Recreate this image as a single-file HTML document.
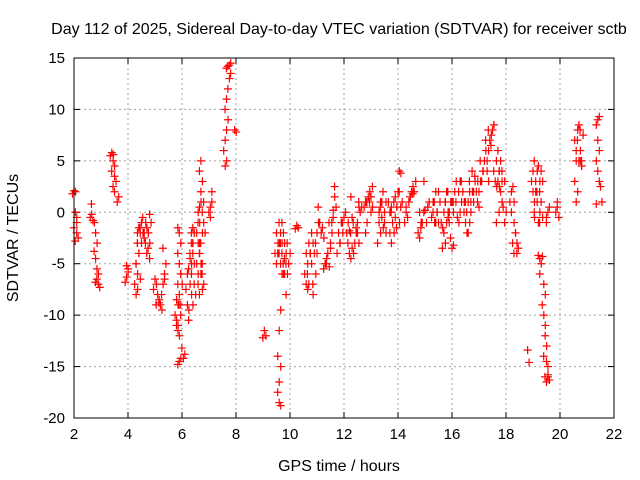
<!DOCTYPE html>
<html><head><meta charset="utf-8"><style>
body{margin:0;background:#fff}
svg{display:block;font-family:"Liberation Sans",sans-serif}
</style></head><body>
<svg id="chart" width="640" height="480">
<text x="339" y="34" font-size="16" text-anchor="middle">Day 112 of 2025, Sidereal Day-to-day VTEC variation (SDTVAR) for receiver sctb</text>
<text x="339" y="471" font-size="16" text-anchor="middle">GPS time / hours</text>
<text transform="translate(18,238) rotate(-90)" font-size="16" text-anchor="middle">SDTVAR / TECUs</text>
<g id="grid"></g><g id="ticks"></g><g id="marks"></g>
<rect x="74" y="58" width="540" height="360" fill="none" stroke="#000"/>
</svg>
<script>
const xTicks=[2,4,6,8,10,12,14,16,18,20,22];
const yTicks=[15,10,5,0,-5,-10,-15,-20];
// each group: [time, value, value, ...]
const groups=[
[2.0,2.1,2.0,1.8],[2.05,0,-0.5,-1.5],[2.1,-2,-2.5,-2.8,-1.0],
[2.6,-0.5,-0.2],[2.7,-0.8,-1.0,0.8],[2.8,-2,-3,-3.8,-4.5],[2.85,-5.5,-6,-6.8],[2.9,-7,-7.3,-6.5],
[3.4,5.8,5.6,5.5],[3.45,5.0,4.5,4.0],[3.5,3.5,3.0,2.5,2.0],[3.6,1.0,1.5],
[3.95,-6.3,-5.5,-6.8,-5.2,-5.8],
[4.3,-5,-6,-7,-8,-7.5],[4.35,-3,-4,-5,-2],[4.4,-1.5,-2,-3,-4,-6.5],[4.5,-1,-2,-1.5,-3],[4.6,-2,-1,-0.5,-2.5],[4.7,-1.5,-2,-3],[4.75,-2,-3,-4],[4.8,-0.2,-1,-3.5,-4.5],
[5.0,-6.5,-7,-7.5],[5.1,-8,-8.5,-9],[5.2,-9,-9.5,-8.8],[5.3,-7,-6.5,-8],[5.35,-6,-5,-3.5],
[5.8,-8.5,-9,-10,-10.5,-11],[5.85,-11.5,-12,-11],[5.9,-14.5,-14.2,-14.8,-2,-3,-4,-5,-6,-7,-8,-9,-1.5],[5.95,-6,-7,-9,-10],[6.05,-14.2,-13.8,-13.2],
[6.2,-9,-9.5,-7.5,-6],[6.3,-4.5,-5,-5.5,-7,-8,-10.5],[6.35,-2,-3,-4,-6,-9],[6.4,-1.5,-2,-3,-4,-5],[6.45,-7,-8,-3,-2],
[6.6,0,-1,-2,-3,-4,-5,-6],[6.65,0.5,1,-1,-3,-5,-7],[6.7,2,3,4,5,-2,-4,-6,-7.5,-8],[6.75,0,-1,-3,-5,-7],[6.8,1,-2,-6],
[7.05,0.5,1,0,-0.5,2],
[7.6,4.5,5,6,7],[7.65,8,9,10,11],[7.7,12,13,14],[7.75,14.3,14.5,14.2],[7.8,13.5],[7.95,8,7.8],
[9.05,-11.5,-12,-12.2],
[9.5,-2,-3,-4,-5],[9.55,-4,-3],[9.6,-18.5,-18.8,-17.5,-16.5,-15,-14,-11.5,-9.5,-4],[9.65,-2,-3,-4,-5,-6,-1],[9.7,-1,-2,-3,-4,-6],[9.8,-3,-4,-5,-6,-8],[9.85,-5,-6,-4.5],[9.95,-5,-4,-3],
[10.25,-1.3,-1.5,-1.6],
[10.6,-4,-5,-6,-7,-7.5],[10.7,-3,-4,-6,-7],[10.8,-2,-3,-4,-5,-8],[10.9,-4,-6,-7],[11.0,-2,-1,-3,-4],[11.1,-1,-2,0.5],[11.2,-1.5,-2.5],
[11.3,-5,-4.5,-5.5],[11.4,-4,-5.3,-5],[11.5,-3,-2,-1,-3.5],[11.6,-0.5,1.5,-1,0.2],[11.65,2.5,0.5],
[11.8,-2,-3,-4],[11.9,-1,-2,-3],[12.0,-0.5,0,-1],[12.1,-2,-1],
[12.2,-4,-4.5,-3,-1.8,1.5],[12.3,-3.5,-4,-2,-0.5],[12.4,-3,-2,-1],[12.5,-1,0.5,-1.5,-2,-3],[12.6,0,0.5,1],
[12.8,-2,-1,0.5,1],[12.9,1.5,2,1],[13.0,0,0.5,1,1.5],[13.05,2.5],
[13.3,-1,-2,-3,0,1],[13.4,-0.5,-1.5,0.5,1],[13.5,0,1,2,-1,-2],
[13.7,0,0.5,1,-2,-3],[13.8,-1,-2,0],[13.9,-0.5,0.5,1,1.5],[14.0,2,-1,-1.5],[14.05,4,3.8],[14.1,0.5,1,2],
[14.3,0,-0.5,-1,0.5],[14.4,1,1.5],[14.5,2,2.5,1.5],[14.6,2,3,1.8],
[14.8,0,-1,-2,-2.5],[14.9,-1,0,-1.5],[14.96,3.0],[15.0,0.2,-1],[15.1,0.5,1],
[15.3,0,-1,-0.5,1],[15.4,-1,0,1,2],[15.5,2,1,0,-1],[15.6,-1,-1.5],[15.7,-2,-3,-3.5,0,1],
[15.8,-1,0,1,2,-0.5],[15.9,0,1,2,-1],[16.0,-3.5,-3.2,-2.5,1,0],[16.1,2,3,1],[16.2,-0.5,-1,1],[16.3,0,1,2,3],[16.4,2,1,3],
[16.5,-1,-2,0,1],[16.6,-2,-1,0,1,2],[16.7,1,2,3,0],[16.8,2,3,4,1],[16.9,2,3,3.5],[17.0,2,3,1,0.5],[17.1,3,4,5],[17.2,5,6,4],
[17.3,5,6,7,4,3],[17.4,7,7.5,8],[17.5,8,8.5,6.5],[17.55,8.5],
[17.6,3,2.5,4],[17.7,3,4,5,6,2.5,-1],[17.8,2,3,4,5,1,0],[17.85,4],[17.95,-1,0,0.5,3],
[18.2,2,2.5,1,0],[18.3,-1,-2,-3,1],[18.35,-2,-3,-4],[18.4,-4,-3.5],
[18.8,-13.4,-14.6],
[19.0,2,1,3,4,-0.5],[19.1,3,4,5,2,1,0],[19.2,4.5,3,2,-1,0],[19.25,-4.5,-5,-4.2,-6],[19.3,4,3,2,1,-0.5,-1],[19.35,-4.3],
[19.4,-7,-8,-9,-10,-11],[19.45,-12,-13,-14],[19.5,-14.5,-15,-16,-16.5,-15.8],[19.55,-16,-16.3,-1,0,0.5,-0.5],
[19.9,0.5,-0.5,0,1],
[20.6,1,2,3,5,8,7,6],[20.7,5,6,7,8.5],[20.75,5,4.5],[20.8,4.5,7.5,8,5],
[21.4,9,9.3,8.5,7,6,5,4,3,0.8],[21.5,2.5,1]
];
const NS='http://www.w3.org/2000/svg';
const X0=74,X1=614,Y0=418,Y1=58;
function xs(t){return X0+(t-2)/(22-2)*(X1-X0);}
function ys(v){return Y0-(v+20)/(15+20)*(Y0-Y1);}
const grid=document.getElementById('grid'),ticks=document.getElementById('ticks'),marks=document.getElementById('marks');
function mk(tag,attrs,parent){const e=document.createElementNS(NS,tag);for(const k in attrs)e.setAttribute(k,attrs[k]);parent.appendChild(e);return e;}
xTicks.forEach(t=>{
 const x=xs(t);
 if(t>2&&t<22){const g=mk('line',{x1:x,x2:x,y1:Y1,y2:Y0,stroke:'#a0a0a0','stroke-dasharray':'2,3'},grid);
 
 }
 mk('line',{x1:x,x2:x,y1:Y0,y2:Y0-6,stroke:'#000'},ticks);
 mk('line',{x1:x,x2:x,y1:Y1,y2:Y1+6,stroke:'#000'},ticks);
 const l=mk('text',{x:x,y:Y0+21,'font-size':15,'text-anchor':'middle'},ticks);l.textContent=t;
 
 
});
yTicks.forEach(v=>{
 const y=ys(v);
 if(v<15&&v>-20){const g=mk('line',{x1:X0,x2:X1,y1:y,y2:y,stroke:'#a0a0a0','stroke-dasharray':'2,3'},grid);
 
 }
 mk('line',{x1:X0,x2:X0+6,y1:y,y2:y,stroke:'#000'},ticks);
 mk('line',{x1:X1,x2:X1-6,y1:y,y2:y,stroke:'#000'},ticks);
 const l=mk('text',{x:X0-9,y:y+5,'font-size':15,'text-anchor':'end'},ticks);l.textContent=v;
 
 
});
let d='';
groups.forEach(g=>{const x=xs(g[0]);for(let i=1;i<g.length;i++){const y=ys(g[i]);const dx=((i%3)-1)*1.5;d+=`M${x+dx-4},${y}h8M${x+dx},${y-4}v8`;}});
const p=mk('path',{d:d,stroke:'#f00','stroke-width':1.2,fill:'none'},marks);


</script>
</body></html>
